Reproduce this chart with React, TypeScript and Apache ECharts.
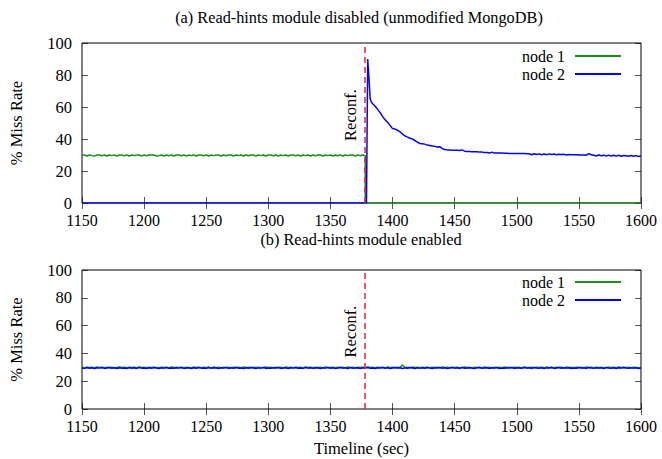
import React, { useEffect, useRef } from "react";
import * as echarts from "echarts";

// ---------- data ----------
const X_MIN = 1150;
const X_MAX = 1600;
const X_STEP = 50;
const Y_MIN = 0;
const Y_MAX = 100;
const Y_STEP = 20;
const SAMPLE_STEP = 2; // seconds between samples
const RECONF_TIME = 1378;

const TITLE_A = "(a) Read-hints module disabled (unmodified MongoDB)";
const TITLE_B = "(b) Read-hints module enabled";
const SERIES_NAMES = ["node 1", "node 2"];

// (a) node 1 before reconfiguration: samples from 1150 every 2 s
const topNode1Pre = [
  30, 30, 29.4, 30, 29.6, 29.3, 30, 30, 29.5, 30, 29.4, 30, 29.6, 30, 29.3, 30, 30, 29.5, 30, 29.4,
  30, 29.6, 30, 30, 29.3, 30, 29.5, 30, 30, 30, 29.4, 29.6, 30, 29.3, 30, 29.5, 30, 29.4, 30, 30,
  29.5, 30, 29.3, 30, 29.6, 30, 29.4, 30, 30, 29.5, 30, 29.3, 30, 29.6, 30, 30, 29.4, 30, 29.5, 30,
  30, 29.3, 30, 29.6, 30, 29.4, 30, 29.5, 30, 30, 29.3, 30, 29.6, 30, 29.4, 30, 30, 29.5, 30, 29.3,
  30, 29.6, 30, 29.4, 30, 30, 29.5, 30, 29.3, 30, 29.6, 30, 29.4, 30, 29.5, 30, 30, 29.3, 30, 29.6,
  30, 29.4, 30, 29.5, 30, 29.3, 30, 29.6, 30, 30, 29.4, 30, 29.5, 30,
];
// (a) node 1 after reconfiguration (time, value)
const topNode1Post: [number, number][] = [
  [1378, 29.6],
  [1378, 0],
  [1600, 0],
];
// (a) node 2 before / at the spike (time, value)
const topNode2Pre: [number, number][] = [
  [1150, 0],
  [1379, 0],
  [1380, 90],
  [1381, 78],
  [1382, 65],
  [1383, 63],
];
// (a) node 2 decay: samples from 1384 every 2 s
const TOP_NODE2_DECAY_START = 1384;
const topNode2Decay = [
  62, 60.5, 58.5, 56.5, 54, 52, 50.5, 48.5, 46.5, 46.2,
  45.5, 44.5, 43, 42, 41.2, 40.5, 40, 39, 38, 37.2,
  37, 36.8, 36.2, 36, 35.6, 35.4, 35, 35.2, 34, 33.4,
  33.2, 33.2, 33, 33, 33, 32.8, 33.2, 32.4, 32.2, 32.2,
  32, 32, 32, 31.8, 31.8, 31.6, 31.5, 31.2, 31.8, 31.2,
  31.2, 31.2, 31.2, 31.1, 31.1, 31, 31, 31, 31, 31,
  30.9, 30.9, 30.8, 30.8, 30.2, 30.8, 30.3, 30.7, 30.2, 30.6,
  30.2, 30.7, 30.3, 30.6, 30.1, 30.5, 30.3, 30.4, 30, 30.3,
  30.2, 30.2, 30.1, 30, 30, 30, 29.9, 30.9, 30.1, 29.9,
  29.4, 30, 29.5, 29.9, 29.3, 29.9, 29.4, 29.8, 29.3, 29.8,
  29.2, 29.7, 29.5, 29.2, 29.7, 29.2, 29.6, 29.1, 29.4,
];

// (b) samples from 1150 every 2 s
const bottomNode1 = [
  30, 29.7, 30.1, 29.8, 30, 29.6, 30.2, 29.9, 30, 29.7, 30.1, 29.8, 30, 29.6, 29.9, 30.2, 29.8, 30, 29.7, 30.1,
  29.8, 30, 29.6, 30.2, 29.9, 30, 29.7, 30.1, 29.8, 30, 29.6, 29.9, 30.1, 29.8, 30, 29.7, 30.2, 29.9, 30, 29.8,
  30.1, 29.7, 30, 29.9, 29.6, 30.2, 29.8, 30, 29.7, 30.1, 29.9, 30, 29.6, 30.2, 29.8, 30, 29.7, 30.1, 29.9, 30,
  29.7, 30.1, 29.8, 30, 29.6, 30.2, 29.9, 30, 29.7, 30.1, 29.8, 30, 29.6, 29.9, 30.2, 29.8, 30, 29.7, 30.1, 29.9,
  30, 29.6, 30.2, 29.8, 30, 29.7, 30.1, 29.9, 30, 29.6, 30.2, 29.8, 30, 29.7, 30.1, 29.9, 30, 29.6, 30.2, 29.8,
  29.9, 30, 29.7, 30.1, 29.8, 30, 29.6, 30.2, 29.9, 30, 29.7, 30.1, 29.8, 30, 29.6, 30.2, 29.9, 30, 29.7, 30.1,
  29.8, 30, 29.6, 30.2, 29.9, 30, 29.7, 30.1, 29.8, 31.6, 29.9, 30, 29.6, 30.2, 29.8, 30, 29.7, 30.1, 29.9, 30,
  29.7, 30.1, 29.8, 30, 29.6, 30.2, 29.9, 30, 29.7, 30.1, 29.8, 30, 29.6, 29.9, 30.2, 29.8, 30, 29.7, 30.1, 29.9,
  30, 29.6, 30.2, 29.8, 30, 29.7, 30.1, 29.9, 30, 29.6, 30.2, 29.8, 30, 29.7, 30.1, 29.9, 30, 29.6, 30.2, 29.8,
  29.9, 30, 29.7, 30.1, 29.8, 30, 29.6, 30.2, 29.9, 30, 29.7, 30.1, 29.8, 30, 29.6, 30.2, 29.9, 30, 29.7, 30.1,
  29.8, 30, 29.6, 30.2, 29.9, 30, 29.7, 30.1, 29.8, 30, 29.6, 29.9, 30.1, 29.8, 30, 29.7, 30.2, 29.9, 30, 29.8,
  30.1, 29.7, 30, 29.9, 29.6, 30,
];
const bottomNode2 = [
  29.5, 29.2, 29.8, 29.3, 29.6, 29.1, 29.7, 29.4, 29.9, 29.2, 29.5, 29.8, 29.3, 29.6, 29.2, 29.7, 29.4, 29.5, 29.1, 29.8,
  29.3, 29.6, 29.2, 29.9, 29.4, 29.5, 29.2, 29.7, 29.3, 29.8, 29.5, 29.1, 29.6, 29.4, 29.9, 29.2, 29.5, 29.3, 29.7, 29.4,
  29.8, 29.2, 29.5, 29.6, 29.1, 29.7, 29.3, 29.9, 29.4, 29.5, 29.2, 29.8, 29.3, 29.6, 29.5, 29.1, 29.7, 29.4, 29.8, 29.2,
  29.6, 29.3, 29.9, 29.4, 29.5, 29.2, 29.7, 29.3, 29.8, 29.5, 29.1, 29.6, 29.4, 29.9, 29.2, 29.5, 29.3, 29.7, 29.4, 29.8,
  29.2, 29.5, 29.6, 29.1, 29.7, 29.4, 29.9, 29.3, 29.5, 29.2, 29.8, 29.4, 29.6, 29.3, 29.5, 29.7, 29.1, 29.6, 29.4, 29.8,
  29.3, 29.7, 29.2, 29.5, 29.9, 29.4, 29.6, 29.1, 29.8, 29.3, 29.5, 29.7, 29.2, 29.6, 29.4, 29.9, 29.3, 29.5, 29.2, 29.7,
  29.4, 29.8, 29.3, 29.6, 29.2, 29.5, 29.9, 29.4, 29.7, 29.1, 29.6, 29.3, 29.8, 29.5, 29.2, 29.7, 29.4, 29.6, 29.3, 29.9,
  29.5, 29.2, 29.7, 29.4, 29.8, 29.3, 29.6, 29.1, 29.5, 29.9, 29.4, 29.6, 29.2, 29.8, 29.3, 29.5, 29.7, 29.4, 29.2, 29.6,
  29.9, 29.3, 29.5, 29.7, 29.2, 29.6, 29.4, 29.8, 29.1, 29.5, 29.3, 29.7, 29.4, 29.9, 29.2, 29.6, 29.5, 29.3, 29.8, 29.4,
  29.6, 29.2, 29.8, 29.5, 29.3, 29.7, 29.1, 29.6, 29.4, 29.9, 29.2, 29.5, 29.8, 29.3, 29.6, 29.4, 29.7, 29.2, 29.5, 29.3,
  29.8, 29.4, 29.6, 29.2, 29.9, 29.5, 29.3, 29.7, 29.4, 29.6, 29.1, 29.8, 29.5, 29.3, 29.7, 29.2, 29.6, 29.4, 29.8, 29.5,
  29.3, 29.7, 29.4, 29.6, 29.2, 29.5,
];

// ---------- styling ----------
const FONT = "'Liberation Serif', 'Times New Roman', serif";
const GREEN = "#1b8c1b";
const BLUE = "#0000ff";
const RED = "#e8262a";
const TICK = "#555";

const pairs = (start: number, vals: number[]): [number, number][] =>
  vals.map((v, i) => [start + i * SAMPLE_STEP, v]);

export default function App() {
  const ref = useRef<HTMLDivElement>(null);

  useEffect(() => {
    if (!ref.current) return;
    const chart = echarts.init(ref.current, undefined, { renderer: "svg" });

    const grids = [
      { left: 82, top: 43, width: 559, height: 160 },
      { left: 82, top: 270, width: 559, height: 139 },
    ];

    const xAxes: any[] = [];
    const yAxes: any[] = [];
    grids.forEach((_, gi) => {
      const baseX = {
        type: "value",
        gridIndex: gi,
        min: X_MIN,
        max: X_MAX,
        interval: X_STEP,
        splitLine: { show: false },
        axisLine: { show: false },
        axisTick: { inside: true, length: 6, lineStyle: { color: TICK, width: 1 } },
      };
      xAxes.push({
        ...baseX,
        position: "bottom",
        axisLabel: {
          fontFamily: FONT,
          fontSize: 16,
          color: "#000",
          margin: 9,
          formatter: (v: number) => String(v),
        },
        ...(gi === 1
          ? {
              name: "Timeline (sec)",
              nameLocation: "middle",
              nameGap: 31,
              nameTextStyle: { fontFamily: FONT, fontSize: 16.5, color: "#000" },
            }
          : {}),
      });
      xAxes.push({ ...baseX, position: "top", axisLabel: { show: false } });

      const baseY = {
        type: "value",
        gridIndex: gi,
        min: Y_MIN,
        max: Y_MAX,
        interval: Y_STEP,
        splitLine: { show: false },
        axisLine: { show: false },
        axisTick: { inside: true, length: 6, lineStyle: { color: TICK, width: 1 } },
      };
      yAxes.push({
        ...baseY,
        position: "left",
        axisLabel: {
          fontFamily: FONT,
          fontSize: 16.5,
          color: "#000",
          margin: 10,
          formatter: (v: number) => String(v),
        },
        name: "% Miss Rate",
        nameLocation: "middle",
        nameGap: 57,
        nameRotate: 90,
        nameTextStyle: { fontFamily: FONT, fontSize: 16.5, color: "#000" },
      });
      yAxes.push({ ...baseY, position: "right", axisLabel: { show: false } });
    });

    const reconfMark = {
      symbol: "none",
      silent: true,
      lineStyle: { color: RED, type: [6, 4], width: 1.5 },
      label: {
        formatter: "Reconf.",
        position: "insideMiddleTop",
        distance: 8,
        offset: [0, -6],
        fontFamily: FONT,
        fontSize: 16.5,
        color: "#000",
      },
      data: [{ xAxis: RECONF_TIME }],
    };

    const lineBase = {
      type: "line",
      showSymbol: false,
      symbol: "none",
      animation: false,
    };

    const series: any[] = [
      {
        ...lineBase,
        name: SERIES_NAMES[0],
        xAxisIndex: 0,
        yAxisIndex: 0,
        data: [...pairs(X_MIN, topNode1Pre), ...topNode1Post],
        lineStyle: { color: GREEN, width: 1.5 },
        itemStyle: { color: GREEN },
        markLine: reconfMark,
      },
      {
        ...lineBase,
        name: SERIES_NAMES[1],
        xAxisIndex: 0,
        yAxisIndex: 0,
        data: [...topNode2Pre, ...pairs(TOP_NODE2_DECAY_START, topNode2Decay)],
        lineStyle: { color: BLUE, width: 1.5 },
        itemStyle: { color: BLUE },
      },
      {
        ...lineBase,
        name: SERIES_NAMES[0],
        xAxisIndex: 2,
        yAxisIndex: 2,
        data: pairs(X_MIN, bottomNode1),
        lineStyle: { color: GREEN, width: 1.5 },
        itemStyle: { color: GREEN },
        markLine: reconfMark,
      },
      {
        ...lineBase,
        name: SERIES_NAMES[1],
        xAxisIndex: 2,
        yAxisIndex: 2,
        data: pairs(X_MIN, bottomNode2),
        lineStyle: { color: BLUE, width: 1.5 },
        itemStyle: { color: BLUE },
      },
    ];

    const legendBase = {
      orient: "vertical",
      align: "right",
      right: 41,
      padding: 0,
      icon: "rect",
      itemWidth: 46,
      itemHeight: 2,
      itemGap: 2,
      selectedMode: false,
      textStyle: {
        fontFamily: FONT,
        fontSize: 16,
        color: "#000",
        lineHeight: 16,
        padding: [0, 5, 0, 0],
      },
      data: SERIES_NAMES,
    };

    const titleStyle = {
      fontFamily: FONT,
      fontSize: 16.3,
      fontWeight: "normal",
      color: "#000",
    };

    chart.setOption({
      animation: false,
      backgroundColor: "#fff",
      title: [
        {
          text: TITLE_A,
          left: 359,
          top: 9,
          padding: 0,
          textAlign: "center",
          textStyle: titleStyle,
        },
        {
          text: TITLE_B,
          left: 361,
          top: 231,
          padding: 0,
          textAlign: "center",
          textStyle: titleStyle,
        },
      ],
      legend: [
        { ...legendBase, top: 48 },
        { ...legendBase, top: 274 },
      ],
      grid: grids.map((g) => ({
        ...g,
        show: true,
        z: 3,
        borderColor: "#000",
        borderWidth: 1,
        backgroundColor: "transparent",
      })),
      xAxis: xAxes,
      yAxis: yAxes,
      series,
    });

    return () => chart.dispose();
  }, []);

  return (
    <div
      ref={ref}
      style={{ position: "absolute", left: 0, top: 0, width: 662, height: 459, background: "#fff" }}
    />
  );
}
